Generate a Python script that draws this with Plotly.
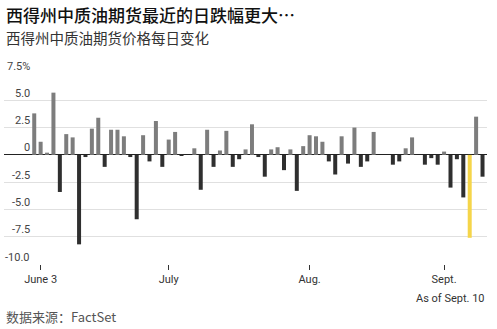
import plotly.graph_objects as go

title = "西得州中质油期货最近的日跌幅更大…"
subtitle = "西得州中质油期货价格每日变化"
source = "数据来源：FactSet"
note = "As of Sept. 10"

dates = [
    "2020-06-02", "2020-06-03", "2020-06-04", "2020-06-05", "2020-06-08", "2020-06-09", "2020-06-10",
    "2020-06-11", "2020-06-12", "2020-06-15", "2020-06-16", "2020-06-17", "2020-06-18", "2020-06-19",
    "2020-06-22", "2020-06-23", "2020-06-24", "2020-06-25", "2020-06-26", "2020-06-29", "2020-06-30",
    "2020-07-01", "2020-07-02", "2020-07-06", "2020-07-07", "2020-07-08", "2020-07-09", "2020-07-10",
    "2020-07-13", "2020-07-14", "2020-07-15", "2020-07-16", "2020-07-17", "2020-07-20", "2020-07-21",
    "2020-07-22", "2020-07-23", "2020-07-24", "2020-07-27", "2020-07-28", "2020-07-29", "2020-07-30",
    "2020-07-31", "2020-08-03", "2020-08-04", "2020-08-05", "2020-08-06", "2020-08-07", "2020-08-10",
    "2020-08-11", "2020-08-12", "2020-08-13", "2020-08-14", "2020-08-17", "2020-08-18", "2020-08-19",
    "2020-08-20", "2020-08-21", "2020-08-24", "2020-08-25", "2020-08-26", "2020-08-27", "2020-08-28",
    "2020-08-31", "2020-09-01", "2020-09-02", "2020-09-03", "2020-09-04", "2020-09-08", "2020-09-09",
    "2020-09-10",
]

changes = [
    3.8, 1.2, 0.2, 5.7, -3.4, 1.9, 1.6,
    -8.2, -0.2, 2.4, 3.4, -1.1, 2.3, 2.3,
    1.7, -0.2, -5.9, 1.8, -0.6, 3.1, -1.1,
    1.4, 2.1, -0.1, 0.0, 0.6, -3.2, 2.3,
    -1.1, 0.4, 2.2, -1.1, -0.4, 0.5, 2.8,
    -0.2, -2.0, 0.5, 0.7, -1.4, 0.5, -3.3,
    0.8, 1.8, 1.7, 1.2, -0.6, -1.8, 1.7,
    -0.8, 2.5, -1.1, -0.6, 2.1, 0.0, 0.0,
    -0.9, -0.6, 0.6, 1.6, 0.0, -0.9, -0.3,
    -0.9, 0.3, -3.0, -0.4, -3.9, -7.6, 3.5,
    -2.0,
]

highlight_date = "2020-09-08"

x_tickvals = ["2020-06-03", "2020-07-01", "2020-08-03", "2020-09-01"]
x_ticktext = ["June 3", "July", "Aug.", "Sept."]

y_tickvals = [7.5, 5.0, 2.5, 0, -2.5, -5.0, -7.5, -10.0]
y_ticktext = ["7.5%", "5.0", "2.5", "0", "-2.5", "-5.0", "-7.5", "-10.0"]

POS = "#7d7d7d"
NEG = "#2f2f2f"
HIL = "#f5d54a"
colors = [HIL if d == highlight_date else (POS if v >= 0 else NEG) for d, v in zip(dates, changes)]

NUMFONT = "Liberation Sans Narrow, Roboto, Liberation Sans, sans-serif"
CJK = "Noto Sans CJK SC, Noto Sans, sans-serif"

fig = go.Figure(go.Bar(x=dates, y=changes, marker=dict(color=colors, line=dict(width=0)),
                       hoverinfo="skip"))

W, H = 497, 329
L, R, T, B = 4, 10, 73, 65

annotations = []
for v, t in zip(y_tickvals, y_ticktext):
    annotations.append(dict(x=(32 - L) / (W - L - R), xref="paper", xanchor="right",
                            y=v, yref="y", yanchor="middle", yshift=7,
                            text=t, showarrow=False,
                            font=dict(family=NUMFONT, size=11, color="#444")))

plot_h = H - T - B
def py(ypx):
    return (H - B - ypx) / plot_h

annotations += [
    dict(x=0, xref="paper", xanchor="left", y=py(14), yref="paper", yanchor="middle",
         text=title, showarrow=False, font=dict(family=CJK, size=17, color="#111", weight=500)),
    dict(x=0, xref="paper", xanchor="left", y=py(37), yref="paper", yanchor="middle",
         text=subtitle, showarrow=False, font=dict(family=CJK, size=14.5, color="#333")),
    dict(x=1, xref="paper", xanchor="right", y=py(298), yref="paper", yanchor="middle",
         text=note, showarrow=False, font=dict(family=NUMFONT, size=11, color="#333")),
    dict(x=0, xref="paper", xanchor="left", y=py(316), yref="paper", yanchor="middle",
         text=source, showarrow=False, font=dict(family=CJK, size=13, color="#555")),
]

fig.update_layout(
    width=W, height=H,
    margin=dict(l=L, r=R, t=T, b=B),
    paper_bgcolor="white", plot_bgcolor="white",
    showlegend=False,
    bargap=0.375,
    annotations=annotations,
    xaxis=dict(type="category", range=[-4.72, 70.7], tickmode="array",
               tickvals=x_tickvals, ticktext=x_ticktext,
               ticks="outside", ticklen=5, tickwidth=1, tickcolor="#333",
               showgrid=False, showline=False, zeroline=False,
               tickfont=dict(family=NUMFONT, size=11, color="#333")),
    yaxis=dict(range=[-10, 7.5], tickmode="array", tickvals=y_tickvals,
               showticklabels=False, showgrid=True, gridcolor="#e0e0e0", gridwidth=1,
               zeroline=True, zerolinecolor="#222", zerolinewidth=1, showline=False),
)

fig.write_html("out.html")
